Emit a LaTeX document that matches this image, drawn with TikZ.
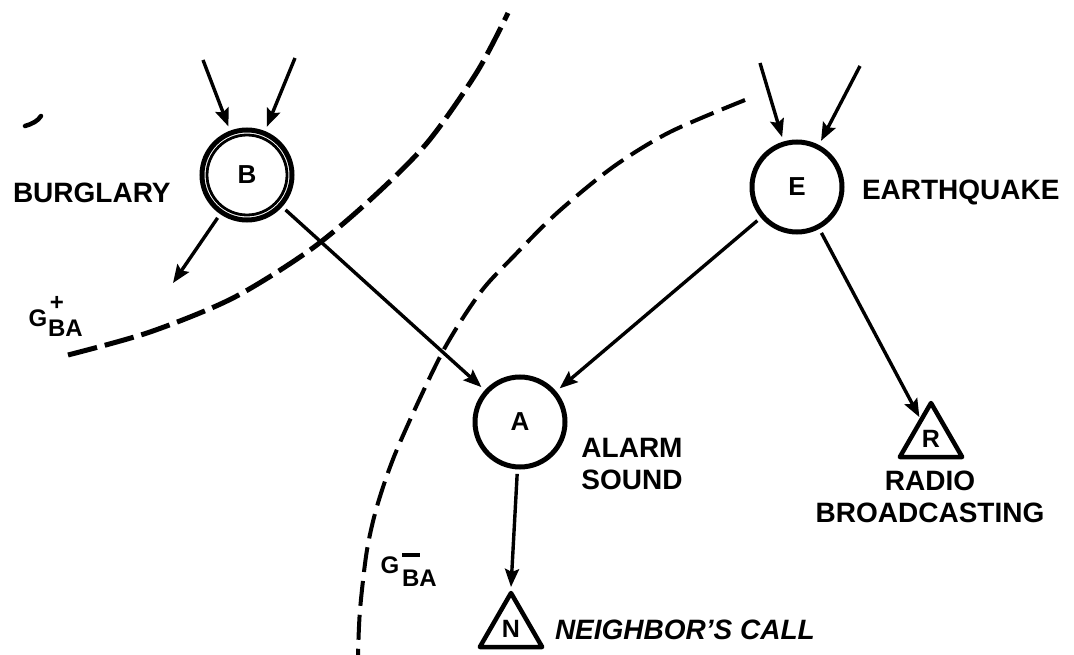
\documentclass[tikz,border=0pt]{standalone}
\usepackage{fontspec}
\setmainfont{Liberation Sans}
\usetikzlibrary{arrows.meta,shapes.geometric}

\begin{document}
\begin{tikzpicture}[x=1pt,y=-1pt,
  every node/.style={inner sep=0pt, outer sep=0pt},
  var/.style={circle, draw, line width=5pt, minimum size=90pt, outer sep=7pt,
    font=\fontsize{26}{30}\selectfont\bfseries},
  obs/.style={regular polygon, regular polygon sides=3, draw, line width=4.5pt,
    line join=round, minimum size=72pt, outer sep=3pt,
    font=\fontsize{25}{28}\selectfont\bfseries},
  lbl/.style={font=\fontsize{28}{32}\selectfont\bfseries},
  glbl/.style={font=\fontsize{24}{27}\selectfont\bfseries},
  link/.style={line width=3.4pt, -{Stealth[length=18pt,width=14pt,inset=3pt]}},
  boundary/.style={line cap=butt}
]
\fill[white] (0,0) rectangle (1074,655);
\useasboundingbox (0,0) rectangle (1074,655);

% separating boundaries
\draw[boundary, line width=5pt, dash pattern=on 30pt off 8pt]
  plot[smooth] coordinates {(68,355) (150,332) (233,298) (310,250) (370,200) (427,143) (477,72) (508,13)};
\draw[boundary, line width=4pt, dash pattern=on 25pt off 9pt]
  plot[smooth] coordinates {(745,100) (670,132) (613,167) (557,213) (513,257) (480,293) (442,353) (398,447) (378,503) (367,550) (360,610) (358,655)};

% stray pen mark
\draw[line width=4.5pt, line cap=round] (25,126) .. controls (32,124) and (38,121) .. (41,116);

% variables
\node[var] (B) at (247,175) {B};
\draw[line width=2.8pt] (B.center) circle[radius=40];
\node[var] (E) at (797,187) {E};
\node[var] (A) at (520,422) {A};
\node[obs] (N) at (511,629) {N};
\node[obs] (R) at (931,439) {R};

% labels
\node[lbl, anchor=west] (burg) at (13,193) {BURGLARY};
\node[lbl, anchor=west] (earth) at (862,192) {EARTHQUAKE};
\node[lbl, align=center] (alarm) at (632,464) {ALARM\\SOUND};
\node[lbl, align=center] (radio) at (930,497) {RADIO\\BROADCASTING};
\node[lbl, anchor=west, font=\fontsize{28}{32}\selectfont\bfseries\itshape] (call) at (555,630) {NEIGHBOR'S CALL};

\node[glbl] (gp) at (38,318) {G};
\node[glbl] (gpsign) at (57,303) {+};
\node[glbl, anchor=west] (gpsub) at (48,328) {BA};
\node[glbl] (gm) at (390,565) {G};
\node[fill, minimum width=18pt, minimum height=3.5pt] (gmsign) at (411,555) {};
\node[glbl, anchor=west] (gmsub) at (402,578) {BA};

% free ends of the outside links
\coordinate (bin1) at (203,60);
\coordinate (bin2) at (295,58);
\coordinate (ein1) at (760,63);
\coordinate (ein2) at (860,66);
\coordinate (bout) at (173,283);

% links
\draw[link] (bin1) -- (B);
\draw[link] (bin2) -- (B);
\draw[link] (ein1) -- (E);
\draw[link] (ein2) -- (E);
\draw[link] (B) -- (bout);
\draw[link] (B) -- (A);
\draw[link] (E) -- (A);
\draw[link] (E) -- (R);
\draw[link] (A) -- (N.corner 1);
\end{tikzpicture}
\end{document}
